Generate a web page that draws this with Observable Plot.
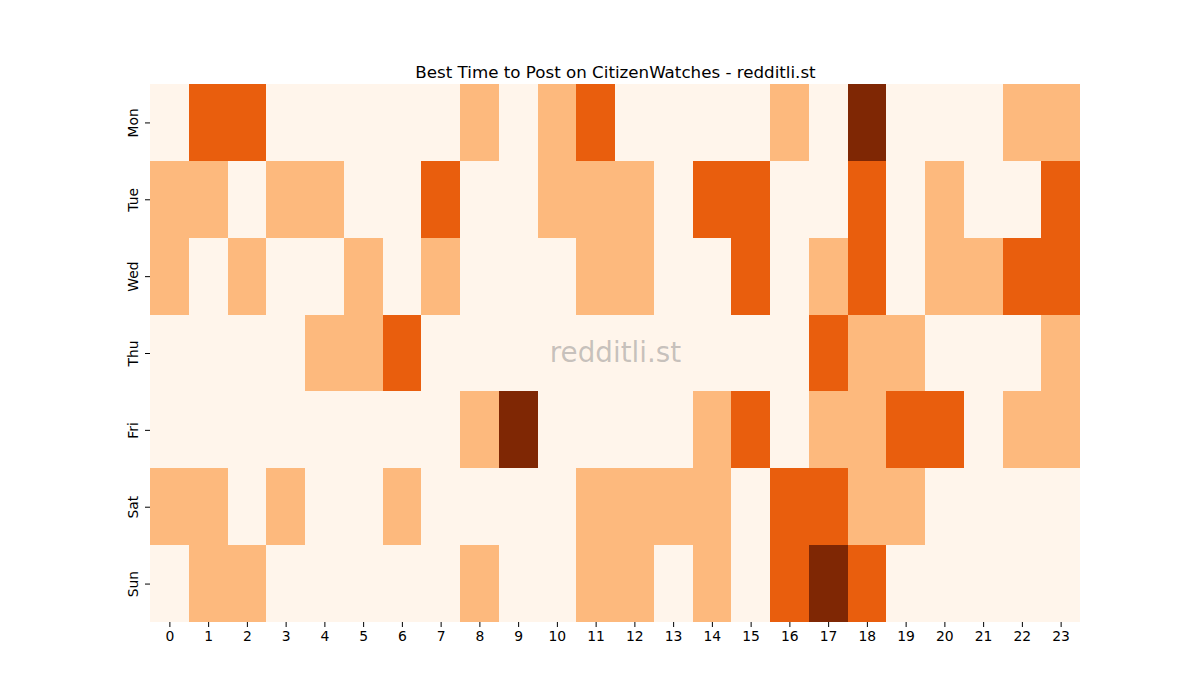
<!DOCTYPE html>
<html>
<head>
<meta charset="utf-8">
<script src="https://cdn.jsdelivr.net/npm/d3@7"></script>
<script src="https://cdn.jsdelivr.net/npm/@observablehq/plot@0.6"></script>
<style>
  html, body { margin: 0; padding: 0; background: #ffffff; }
  #chart svg { display: block; }
</style>
</head>
<body>
<div id="chart"></div>
<script>
const days = ["Mon", "Tue", "Wed", "Thu", "Fri", "Sat", "Sun"];
const hours = [0,1,2,3,4,5,6,7,8,9,10,11,12,13,14,15,16,17,18,19,20,21,22,23];
const mon = [0,2,2,0,0,0,0,0,1,0,1,2,0,0,0,0,1,0,3,0,0,0,1,1];
const tue = [1,1,0,1,1,0,0,2,0,0,1,1,1,0,2,2,0,0,2,0,1,0,0,2];
const wed = [1,0,1,0,0,1,0,1,0,0,0,1,1,0,0,2,0,1,2,0,1,1,2,2];
const thu = [0,0,0,0,1,1,2,0,0,0,0,0,0,0,0,0,0,2,1,1,0,0,0,1];
const fri = [0,0,0,0,0,0,0,0,1,3,0,0,0,0,1,2,0,1,1,2,2,0,1,1];
const sat = [1,1,0,1,0,0,1,0,0,0,0,1,1,1,1,0,2,2,1,1,0,0,0,0];
const sun = [0,1,1,0,0,0,0,0,1,0,0,1,1,0,1,0,2,3,2,0,0,0,0,0];
const levels = [0, 1, 2, 3];
const palette = ["#fff5eb", "#fdb97d", "#e95e0d", "#7f2704"];
const title = "Best Time to Post on CitizenWatches - redditli.st";
const watermark = "redditli.st";

const rows = [mon, tue, wed, thu, fri, sat, sun];
const table = rows.flatMap((r, i) => r.map((v, h) => ({day: days[i], hour: hours[h], value: v})));

const font = "DejaVu Sans, sans-serif";

const chart = Plot.plot({
  width: 1200,
  height: 700,
  marginLeft: 150,
  marginRight: 120,
  marginTop: 84,
  marginBottom: 78,
  style: {fontFamily: font, background: "#ffffff", color: "#000000"},
  x: {type: "band", domain: hours, padding: 0, round: false},
  y: {type: "band", domain: days, padding: 0, round: false},
  color: {type: "ordinal", domain: levels, range: palette},
  marks: [
    Plot.cell(table, {x: "hour", y: "day", fill: "value", inset: 0, shapeRendering: "crispEdges"}),
    Plot.axisX({tickSize: 5, tickPadding: 4, fontSize: 13.9, label: null, stroke: "#000", fill: "#000"}),
    Plot.axisY({tickSize: 5, label: null, text: null, stroke: "#000"}),
    Plot.text(days, {y: d => d, text: d => d, frameAnchor: "left", dx: -17, rotate: -90,
      textAnchor: "middle", lineAnchor: "middle", fontSize: 13.9, fill: "#000"}),
    Plot.text([title], {frameAnchor: "top", dy: -7, lineAnchor: "bottom", fontSize: 16.7, fill: "#000"}),
    Plot.text([watermark], {frameAnchor: "middle", fontSize: 27.8, fill: "#808080", fillOpacity: 0.45})
  ]
});

document.getElementById("chart").appendChild(chart);
</script>
</body>
</html>
